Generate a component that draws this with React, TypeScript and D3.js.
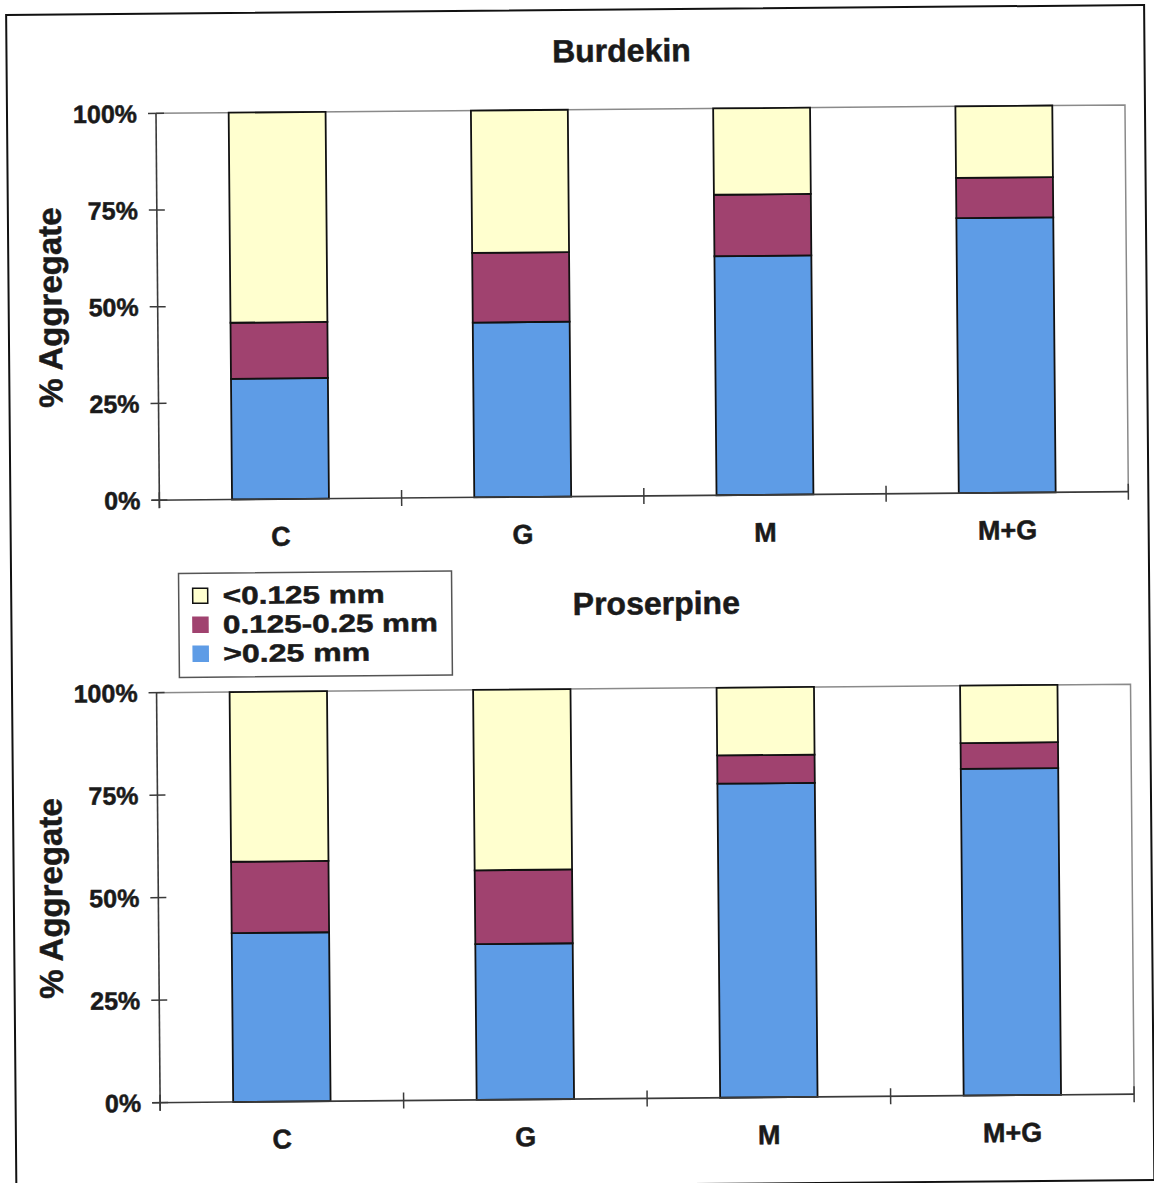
import React from "react";
import * as d3 from "d3";

// Aggregate size classes, stacked bottom → top
const stackKeys = ["coarse", "medium", "fine"];
const classColors: Record<string, string> = {
  coarse: "#5E9CE6",
  medium: "#A0426F",
  fine: "#FFFFCF",
};
const legendLabels = ["<0.125 mm", "0.125-0.25 mm", ">0.25 mm"];
const legendKeys = ["fine", "medium", "coarse"];
const legendTextWidths = [162, 215, 147];

const categories = ["C", "G", "M", "M+G"];
const yTicks = [0, 25, 50, 75, 100];
const yTickLabels = ["0%", "25%", "50%", "75%", "100%"];

// Burdekin (% of aggregates in each class)
const burdekinCoarse = [31.2, 45.2, 61.8, 71.1];
const burdekinMedium = [14.5, 18.0, 15.9, 10.4];
const burdekinFine = [54.3, 36.8, 22.3, 18.5];

// Proserpine
const proserpineCoarse = [41.2, 38.0, 76.6, 79.7];
const proserpineMedium = [17.4, 18.0, 6.9, 6.3];
const proserpineFine = [41.4, 44.0, 16.5, 14.0];

const FONT = "'Liberation Sans', Arial, Helvetica, sans-serif";
const INK = "#1a1a1a";
const AXIS = "#3a3a3a";
const BORDER = "#8a8a8a";

const textStyle = {
  fontFamily: FONT,
  fontWeight: "bold" as const,
  fill: INK,
  stroke: INK,
  strokeWidth: 0.5,
};

type PanelProps = {
  title: string;
  titleX: number;
  titleY: number;
  left: number;
  right: number;
  top: number;
  bottom: number;
  coarse: number[];
  medium: number[];
  fine: number[];
};

function Panel({ title, titleX, titleY, left, right, top, bottom, coarse, medium, fine }: PanelProps) {
  const x = d3
    .scaleBand<string>()
    .domain(categories)
    .range([left, right])
    .paddingInner(0.6)
    .paddingOuter(0.3);
  const y = d3.scaleLinear().domain([0, 100]).range([bottom, top]);
  const rows = categories.map((c, i) => ({ cat: c, coarse: coarse[i], medium: medium[i], fine: fine[i] }));
  const series = d3.stack<any>().keys(stackKeys)(rows);
  const step = x.step();
  const boundaries = d3.range(categories.length + 1).map((i) => left + i * step);

  return (
    <g>
      <text x={titleX} y={titleY} textAnchor="middle" fontSize={32} {...textStyle}>
        {title}
      </text>
      {/* plot-area border */}
      <path d={`M${left},${top}H${right}V${bottom}`} fill="none" stroke={BORDER} strokeWidth={1.5} />
      {/* stacked bars */}
      {series.map((s) => (
        <g key={s.key}>
          {s.map((d, i) => (
            <rect
              key={categories[i]}
              x={x(categories[i])}
              y={y(d[1])}
              width={x.bandwidth()}
              height={y(d[0]) - y(d[1])}
              fill={classColors[s.key]}
              stroke="#111"
              strokeWidth={1.8}
            />
          ))}
        </g>
      ))}
      {/* y axis */}
      <line x1={left} x2={left} y1={top} y2={bottom + 8} stroke={AXIS} strokeWidth={1.6} />
      {yTicks.map((t, i) => (
        <g key={t}>
          <line x1={left - 8} x2={left + 8} y1={y(t)} y2={y(t)} stroke={AXIS} strokeWidth={1.5} />
          <text x={left - 19} y={y(t)} dy="0.36em" textAnchor="end" fontSize={25} {...textStyle}>
            {yTickLabels[i]}
          </text>
        </g>
      ))}
      {/* x axis */}
      <line x1={left - 8} x2={right} y1={bottom} y2={bottom} stroke={AXIS} strokeWidth={1.6} />
      {boundaries.map((b, i) => (
        <line key={i} x1={b} x2={b} y1={bottom - 8} y2={bottom + 8} stroke={AXIS} strokeWidth={1.5} />
      ))}
      {categories.map((c) => (
        <text
          key={c}
          x={(x(c) as number) + x.bandwidth() / 2}
          y={bottom + 37}
          dy="0.36em"
          textAnchor="middle"
          fontSize={27}
          {...textStyle}
        >
          {c}
        </text>
      ))}
      <text
        transform={`translate(${left - 108},${(top + bottom) / 2}) rotate(-90)`}
        dy="0.36em"
        textAnchor="middle"
        fontSize={33}
        {...textStyle}
      >
        % Aggregate
      </text>
    </g>
  );
}

function Legend({ x0, y0 }: { x0: number; y0: number }) {
  return (
    <g>
      <rect x={x0} y={y0} width={273} height={104} fill="#fff" stroke="#555" strokeWidth={1.5} />
      {legendKeys.map((k, i) => (
        <g key={k}>
          <rect
            x={x0 + 14}
            y={y0 + 15 + i * 29}
            width={15}
            height={15}
            fill={classColors[k]}
            stroke={k === "fine" ? "#111" : classColors[k]}
            strokeWidth={1.5}
          />
          <text
            x={x0 + 44}
            y={y0 + 31 + i * 29}
            fontSize={25}
            textLength={legendTextWidths[i]}
            lengthAdjust="spacingAndGlyphs"
            {...textStyle}
          >
            {legendLabels[i]}
          </text>
        </g>
      ))}
    </g>
  );
}

export default function App() {
  return (
    <svg
      width={1154}
      height={1183}
      style={{ position: "absolute", left: 0, top: 0, background: "#fff" }}
    >
      <g transform="rotate(-0.5)">
        <rect x={6} y={15} width={1138} height={1175} fill="#fff" stroke="#111" strokeWidth={2} />
        <Panel
          title="Burdekin"
          titleX={621}
          titleY={67}
          left={155}
          right={1124}
          top={114.7}
          bottom={501.5}
          coarse={burdekinCoarse}
          medium={burdekinMedium}
          fine={burdekinFine}
        />
        <Panel
          title="Proserpine"
          titleX={651}
          titleY={620}
          left={150.5}
          right={1124.5}
          top={694}
          bottom={1104}
          coarse={proserpineCoarse}
          medium={proserpineMedium}
          fine={proserpineFine}
        />
        <Legend x0={173.5} y0={575} />
      </g>
    </svg>
  );
}
